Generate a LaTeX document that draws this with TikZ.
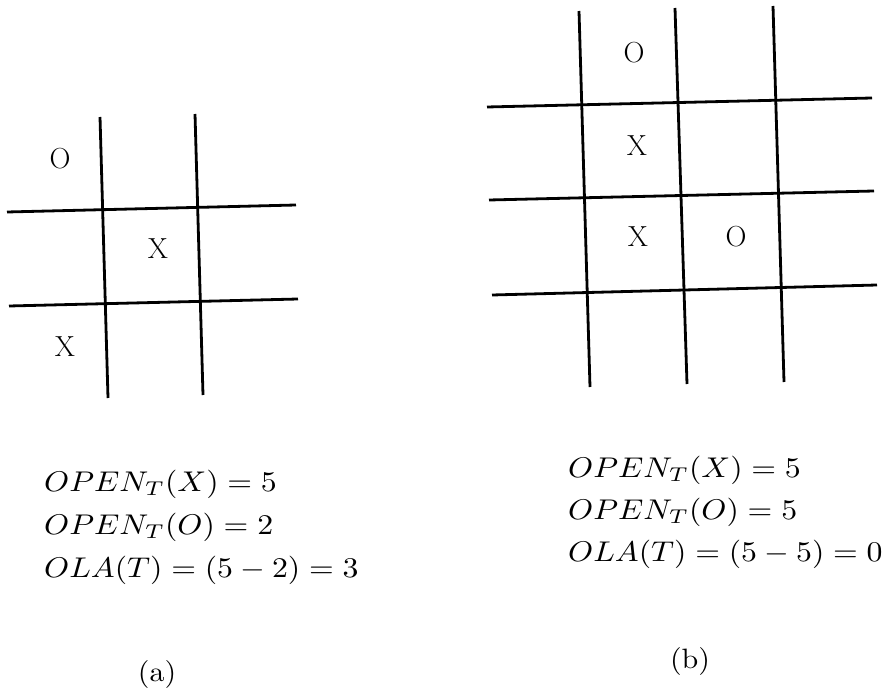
\documentclass[tikz,border=0pt]{standalone}
\begin{document}
\begin{tikzpicture}[x=1pt,y=-1pt,
  gridline/.style={line width=2.8pt},
  cellmark/.style={inner sep=0pt,font=\fontsize{29}{35}\selectfont},
  eqline/.style={anchor=base west,inner sep=0pt},
  caplabel/.style={anchor=base,inner sep=0pt}]
\newcommand{\eqtext}[1]{\scalebox{3.18}[2.85]{$#1$}}
\newcommand{\captext}[1]{\scalebox{3.0}[2.8]{#1}}
\useasboundingbox (0,0) rectangle (891,692);
% grid (a)
\coordinate (av1a) at (100,117); \coordinate (av1b) at (108,398);
\coordinate (av2a) at (195,114); \coordinate (av2b) at (203,395);
\coordinate (ah1a) at (7,212);   \coordinate (ah1b) at (296,205);
\coordinate (ah2a) at (9,306);   \coordinate (ah2b) at (298,299);
\draw[gridline] (av1a) -- (av1b);
\draw[gridline] (av2a) -- (av2b);
\draw[gridline] (ah1a) -- (ah1b);
\draw[gridline] (ah2a) -- (ah2b);
\node[cellmark] (a1) at (60,159) {O};
\node[cellmark] (a2) at (158,249) {X};
\node[cellmark] (a3) at (65,347) {X};
% grid (b)
\coordinate (bv1a) at (579,11); \coordinate (bv1b) at (590,387);
\coordinate (bv2a) at (675,8);  \coordinate (bv2b) at (687,384);
\coordinate (bv3a) at (773,6);  \coordinate (bv3b) at (784,382);
\coordinate (bh1a) at (487,107); \coordinate (bh1b) at (872,98);
\coordinate (bh2a) at (489,200); \coordinate (bh2b) at (874,191);
\coordinate (bh3a) at (492,295); \coordinate (bh3b) at (877,285);
\draw[gridline] (bv1a) -- (bv1b);
\draw[gridline] (bv2a) -- (bv2b);
\draw[gridline] (bv3a) -- (bv3b);
\draw[gridline] (bh1a) -- (bh1b);
\draw[gridline] (bh2a) -- (bh2b);
\draw[gridline] (bh3a) -- (bh3b);
\node[cellmark] (b1) at (634,53) {O};
\node[cellmark] (b2) at (637,146) {X};
\node[cellmark] (b3) at (638,237) {X};
\node[cellmark] (b4) at (736,237) {O};
% equations (a)
\node[eqline] (ea1) at (44,491) {\eqtext{OPEN_T(X)=5}};
\node[eqline] (ea2) at (44,534) {\eqtext{OPEN_T(O)=2}};
\node[eqline] (ea3) at (44,577) {\eqtext{OLA(T)=(5-2)=3}};
% equations (b)
\node[eqline] (eb1) at (568,477) {\eqtext{OPEN_T(X)=5}};
\node[eqline] (eb2) at (568,519) {\eqtext{OPEN_T(O)=5}};
\node[eqline] (eb3) at (568,561) {\eqtext{OLA(T)=(5-5)=0}};
% captions
\node[caplabel] (ca) at (157,681) {\captext{(a)}};
\node[caplabel] (cb) at (690,668) {\captext{(b)}};
\end{tikzpicture}
\end{document}
